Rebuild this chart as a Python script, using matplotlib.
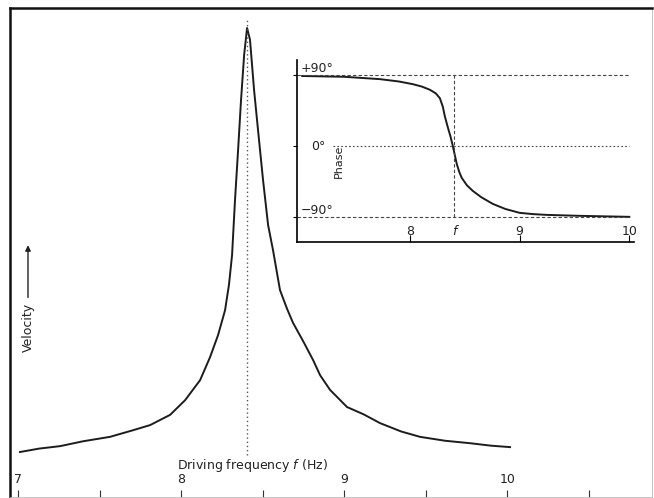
import numpy as np
import matplotlib.pyplot as plt

# resonance curve (velocity in arbitrary units, 0-100)
freq = [7.012, 7.130, 7.258, 7.400, 7.564, 7.700, 7.810, 7.933, 8.025, 8.117,
        8.178, 8.227, 8.270, 8.294, 8.313, 8.331, 8.350, 8.368, 8.387, 8.405,
        8.423, 8.448, 8.472, 8.503, 8.534, 8.564, 8.607, 8.650, 8.687, 8.750,
        8.810, 8.853, 8.914, 9.018, 9.120, 9.221, 9.350, 9.466, 9.620, 9.773,
        9.900, 10.018]
velocity = [9.2, 9.9, 10.4, 11.4, 12.3, 13.6, 14.7, 16.8, 19.8, 23.9,
            28.6, 33.1, 38.2, 43.4, 49.5, 60.7, 71.0, 81.2, 90.4, 95.9,
            93.5, 83.2, 75.1, 64.8, 55.6, 50.5, 42.3, 38.5, 35.6, 31.8,
            28.0, 24.9, 21.9, 18.4, 16.9, 15.1, 13.4, 12.3, 11.5, 11.0,
            10.5, 10.2]
f_res = 8.405

# phase curve (degrees)
phase_freq = [7.018, 7.400, 7.727, 7.900, 8.027, 8.110, 8.182, 8.235, 8.273,
              8.300, 8.318, 8.345, 8.370, 8.391, 8.410, 8.427, 8.450, 8.473,
              8.520, 8.573, 8.650, 8.755, 8.870, 9.0, 9.120, 9.245, 9.545, 10.0]
phase = [89, 88, 85, 82, 78.6, 75.5, 71.5, 67, 60.8,
         50, 38, 24, 12, 0, -12, -22.8, -33, -40.6,
         -50, -57.0, -65, -73.5, -80, -84.9, -86.5, -87.5, -88.7, -90]

main_ticks = [7, 8, 9, 10]
phase_ticks = [8, 9, 10]
phase_levels = [90, 0, -90]

ink = '#1c1c1c'
fig = plt.figure(figsize=(6.54, 4.98), dpi=100)
ax = fig.add_axes([0.0153, 0.002, 0.982, 0.982])
ax.plot(freq, velocity, color=ink, lw=1.4)
ax.plot([f_res, f_res], [8.5, 98], color='#555555', lw=1, ls=(0, (1, 2)))
ax.set_xlim(6.951, 10.890)
ax.set_ylim(0, 100)

for side in ['left', 'top']:
    ax.spines[side].set_linewidth(1.8)
    ax.spines[side].set_color('#111111')
for side in ['right', 'bottom']:
    ax.spines[side].set_linewidth(0.6)
    ax.spines[side].set_color('#bbbbbb')

ax.set_yticks([])
ax.set_xticks(np.arange(7, 11, 0.5))
ax.tick_params(axis='x', direction='in', length=5, width=0.8, colors='#333333',
               labelbottom=False)
for t in main_ticks:
    ax.text(t, 0.035, str(t), transform=ax.get_xaxis_transform(),
            ha='center', va='center', fontsize=9, color='#222222')
ax.text(8.436, 0.065, 'Driving frequency $\\it{f}$ (Hz)', transform=ax.get_xaxis_transform(),
        ha='center', va='center', fontsize=9, color='#222222')

ax.text(0.028, 0.346, 'Velocity', transform=ax.transAxes, rotation=90,
        ha='center', va='center', fontsize=9, color='#222222')
ax.annotate('', xy=(0.028, 0.515), xytext=(0.028, 0.408), xycoords='axes fraction',
            arrowprops=dict(arrowstyle='-|>', color='#222222', lw=1, mutation_scale=8,
                            shrinkA=0, shrinkB=0))

# inset: phase
ins = fig.add_axes([0.454, 0.514, 0.515, 0.365])
ins.plot(phase_freq, phase, color=ink, lw=1.4)
ins.set_xlim(6.97, 10.04)
ins.set_ylim(-122, 109)
ins.plot([6.97, 10.0], [90, 90], color='#444444', lw=0.8, ls=(0, (3, 2)))
ins.plot([7.3, 10.0], [0, 0], color='#444444', lw=0.8, ls=(0, (1.5, 2)))
ins.plot([6.97, 10.0], [-90, -90], color='#444444', lw=0.8, ls=(0, (3, 2)))
ins.plot([f_res, f_res], [-90, 90], color='#444444', lw=0.8, ls=(0, (3, 2)))
ins.spines['top'].set_visible(False)
ins.spines['right'].set_visible(False)
ins.spines['left'].set_linewidth(1.2)
ins.spines['bottom'].set_linewidth(1.2)
ins.spines['bottom'].set_bounds(6.97, 10.04)
ins.set_yticks(phase_levels)
ins.set_yticklabels([])
ins.tick_params(axis='y', direction='out', length=3)
ins.set_xticks(phase_ticks)
ins.set_xticklabels([])
ins.tick_params(axis='x', direction='in', length=5)
for t in phase_ticks:
    ins.text(t, -108, str(t), ha='center', va='center', fontsize=9, color='#222222')
ins.text(f_res, -108, 'f', ha='center', va='center', fontsize=9, style='italic', color='#222222')
ins.text(7.0, 99, '+90°', ha='left', va='center', fontsize=9, color='#222222')
ins.text(7.1, 0, '0°', ha='left', va='center', fontsize=9, color='#222222')
ins.text(7.0, -82, '\u221290°', ha='left', va='center', fontsize=9, color='#222222')
ins.text(7.35, -20, 'Phase', rotation=90, ha='center', va='center', fontsize=8, color='#222222')

fig.savefig('out.png', dpi=100, facecolor='white')
